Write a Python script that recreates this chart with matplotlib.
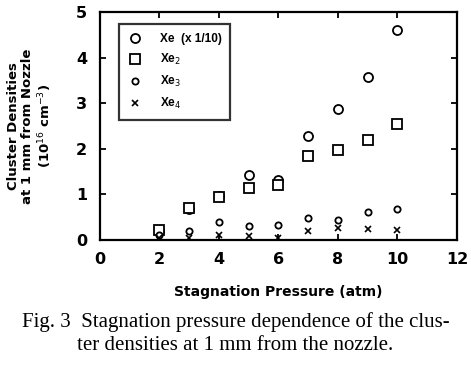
import numpy as np
import matplotlib.pyplot as plt

pressure = [2, 3, 4, 5, 6, 7, 8, 9, 10]
xe1 = [0.20, 0.68, 0.97, 1.42, 1.32, 2.27, 2.87, 3.57, 4.61]   # x 1/10
xe2 = [0.22, 0.70, 0.94, 1.14, 1.21, 1.84, 1.97, 2.19, 2.54]
xe3 = [0.10, 0.20, 0.40, 0.31, 0.32, 0.48, 0.44, 0.62, 0.68]
xe4 = [0.05, 0.04, 0.10, 0.08, 0.05, 0.20, 0.26, 0.24, 0.22]

fig = plt.figure(figsize=(4.71, 3.72), dpi=100)
ax = fig.add_axes([0.212, 0.355, 0.758, 0.613])

plt.rcParams['font.family'] = ['Liberation Sans', 'DejaVu Sans']

ax.plot(pressure, xe1, 'o', ms=6.5, mfc='white', mec='black', mew=1.3, ls='none', label='Xe  (x 1/10)')
ax.plot(pressure, xe2, 's', ms=6.5, mfc='white', mec='black', mew=1.3, ls='none', label='Xe$_2$')
ax.plot(pressure, xe3, 'o', ms=4.5, mfc='white', mec='black', mew=1.3, ls='none', label='Xe$_3$')
ax.plot(pressure, xe4, 'x', ms=5, mec='black', mew=1.2, ls='none', label='Xe$_4$')

ax.set_xlim(0, 12)
ax.set_ylim(0, 5)
ax.set_xticks(np.arange(0, 13, 2))
ax.set_yticks(np.arange(0, 6, 1))
ax.tick_params(direction='in', top=True, right=True, length=4, width=1.3, labelsize=11.5, pad=9)
for lab in ax.get_xticklabels() + ax.get_yticklabels():
    lab.set_fontweight('bold')
for sp in ax.spines.values():
    sp.set_linewidth(1.6)

ax.set_xlabel('Stagnation Pressure (atm)', fontsize=10, fontweight='bold', labelpad=13)
ax.set_ylabel('Cluster Densities\nat 1 mm from Nozzle\n(10$^{16}$ cm$^{-3}$)', fontsize=9.5,
              fontweight='bold', labelpad=16, linespacing=1.15)

leg = ax.legend(loc='upper left', bbox_to_anchor=(0.053, 0.945), fontsize=8.5, frameon=True,
                fancybox=False, edgecolor='black', handletextpad=1.5, borderpad=0.7,
                labelspacing=0.6, handlelength=1.3, borderaxespad=0)
leg.get_frame().set_linewidth(1.6)
for t in leg.get_texts():
    t.set_fontweight('bold')

fig.text(0.5, 0.103, 'Fig. 3  Stagnation pressure dependence of the clus-\nter densities at 1 mm from the nozzle.',
         ha='center', va='center', fontsize=15, family='Liberation Serif', linespacing=1.25)

fig.savefig('out.png', dpi=100)
